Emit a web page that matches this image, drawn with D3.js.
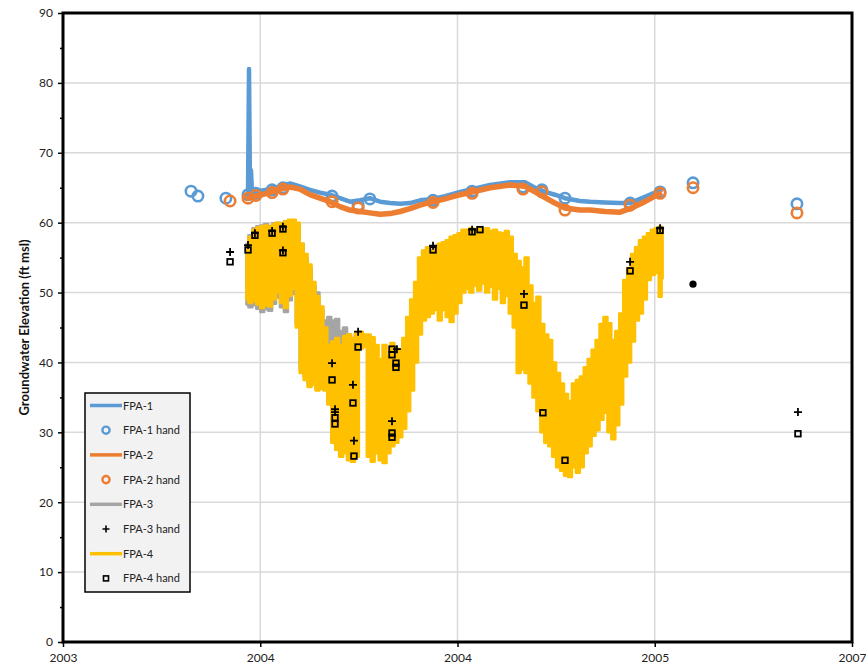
<!DOCTYPE html>
<html><head><meta charset="utf-8">
<script src="https://cdn.jsdelivr.net/npm/d3@7"></script>
<style>body{margin:0;background:#fff} svg{display:block} text{font-family:Lato,'Open Sans',sans-serif}</style>
</head><body><svg id="c" width="866" height="671"></svg>
<script>
// ---------- data ----------
const xTickValues = [0, 1, 2, 3, 4];
const xTickLabels = ["2003", "2004", "2004", "2005", "2007"];
const yTickValues = [0, 10, 20, 30, 40, 50, 60, 70, 80, 90];
const yMinorTicks = [5, 15, 25, 35, 45, 55, 65, 75, 85];
const seriesNames = ["FPA-1", "FPA-1 hand", "FPA-2", "FPA-2 hand", "FPA-3", "FPA-3 hand", "FPA-4", "FPA-4 hand"];

// FPA-1 logger (x in axis-tick units)
const fpa1X = [0.923,0.938,0.943,0.948,0.953,0.958,0.973,1.009,1.049,1.100,1.151,1.201,1.252,1.303,1.354,1.404,1.455,1.506,1.556,1.607,1.658,1.709,1.759,1.810,1.876,1.937,2.013,2.089,2.165,2.266,2.342,2.393,2.444,2.494,2.545,2.621,2.672,2.748,2.824,2.874,2.950,3.001,3.037];
const fpa1Y = [63.8,64.2,82.0,64.3,67.5,64.3,64.4,64.6,64.8,65.2,65.6,65.2,64.7,64.3,64.0,63.5,63.0,63.2,63.5,63.0,62.8,62.7,62.8,63.2,63.4,63.8,64.4,64.9,65.4,65.8,65.8,65.0,64.4,64.0,63.5,63.1,63.0,62.9,62.8,62.8,63.7,64.3,64.8];

// FPA-2 logger
const fpa2X = [0.923,0.973,1.009,1.049,1.100,1.151,1.201,1.252,1.303,1.354,1.404,1.455,1.506,1.556,1.607,1.658,1.709,1.759,1.810,1.876,1.937,2.013,2.089,2.165,2.266,2.342,2.393,2.444,2.494,2.545,2.621,2.672,2.748,2.824,2.874,2.950,3.001,3.037];
const fpa2Y = [63.4,63.8,64.0,64.3,64.8,65.1,64.8,64.0,63.5,63.0,62.3,61.8,61.6,61.4,61.2,61.3,61.6,62.0,62.5,63.0,63.4,64.0,64.5,65.0,65.4,65.2,64.4,63.6,62.8,62.1,61.8,61.8,61.6,61.5,62.0,63.0,63.8,64.3];

// FPA-3 logger (daily max / min envelope)
const fpa3X = [0.93,0.95,0.97,0.99,1.01,1.03,1.05,1.07,1.09,1.11,1.13,1.15,1.17,1.19,1.21,1.23,1.25,1.27,1.29,1.31,1.33,1.35,1.37,1.39,1.41,1.43,1.45,1.47,1.49];
const fpa3Hi = [57.0,58.2,59.2,59.5,59.6,59.8,59.5,59.9,60.0,59.9,60.2,60.2,60.2,59.5,57.0,55.0,53.5,51.0,50.0,47.5,46.0,46.5,46.0,46.2,44.5,45.0,44.0,43.5,44.0];
const fpa3Lo = [48.3,47.9,48.2,47.7,47.2,47.6,47.4,48.4,49.3,47.9,47.2,48.9,49.8,45.5,39.0,38.0,37.0,37.5,36.5,37.0,36.5,34.5,29.0,28.0,27.0,27.5,26.5,26.5,27.0];

// FPA-4 logger (daily max / min envelope)
const fpa4X = [0.93,0.95,0.97,0.99,1.01,1.03,1.05,1.07,1.09,1.11,1.13,1.15,1.17,1.19,1.21,1.23,1.25,1.27,1.29,1.31,1.33,1.35,1.37,1.39,1.41,1.43,1.45,1.47,1.49,1.51,1.53,1.55,1.57,1.59,1.61,1.63,1.65,1.67,1.69,1.71,1.73,1.75,1.77,1.79,1.81,1.83,1.85,1.87,1.89,1.91,1.93,1.95,1.97,1.99,2.01,2.03,2.05,2.07,2.09,2.11,2.13,2.15,2.17,2.19,2.21,2.23,2.25,2.27,2.29,2.31,2.33,2.35,2.37,2.39,2.41,2.43,2.45,2.47,2.49,2.51,2.53,2.55,2.57,2.59,2.61,2.63,2.65,2.67,2.69,2.71,2.73,2.75,2.77,2.79,2.81,2.83,2.85,2.87,2.89,2.91,2.93,2.95,2.97,2.99,3.01,3.03,3.04];
const fpa4Hi = [56.5,58.0,59.0,59.3,59.5,59.6,59.4,59.8,60.0,59.8,60.2,60.4,60.4,60.0,57.0,55.5,54.0,51.5,49.5,48.0,45.0,42.5,43.0,43.5,42.5,43.8,44.0,43.5,44.2,44.4,44.0,44.0,43.6,42.5,40.5,42.5,41.0,42.8,42.0,41.8,43.5,46.5,49.0,51.5,55.0,56.0,56.5,56.0,56.5,57.0,57.2,57.5,58.0,58.2,58.5,59.0,59.0,59.2,59.0,59.2,59.0,59.2,58.8,59.0,58.6,58.5,58.8,58.0,55.5,54.5,53.6,55.0,51.0,48.5,49.4,45.5,44.0,43.2,40.0,38.5,37.0,35.5,34.5,37.0,37.5,38.0,39.3,40.5,41.8,43.2,45.5,46.5,45.6,43.2,44.5,47.0,51.8,53.5,55.5,56.5,57.5,58.0,58.5,59.0,59.2,59.4,59.0];
const fpa4Lo = [49.0,48.5,48.8,48.3,47.8,48.2,48.0,49.0,50.0,48.5,47.8,49.5,50.5,45.0,38.5,37.5,36.5,36.8,36.0,36.2,36.0,34.0,28.5,27.5,26.5,27.0,26.0,25.8,26.5,42.0,42.2,26.5,25.8,27.0,26.0,25.6,27.0,28.0,28.5,29.3,30.5,33.0,36.0,40.0,44.0,46.0,46.5,47.0,47.5,46.0,47.5,46.5,45.8,47.0,48.5,50.0,50.5,50.0,51.0,50.3,51.3,50.0,50.8,49.0,50.5,48.5,49.5,47.0,45.0,38.5,39.0,38.5,37.0,35.0,33.0,30.0,28.5,28.0,26.5,25.0,24.5,23.8,23.6,25.0,24.2,25.0,27.0,28.0,29.5,30.3,31.8,32.8,30.0,29.0,31.0,34.0,38.0,40.0,43.0,46.0,47.0,49.0,51.8,52.5,52.8,49.4,52.0];

// hand measurements
const fpa1HandX = [0.649,0.684,0.826,0.938,0.978,1.060,1.115,1.364,1.496,1.556,1.876,2.074,2.332,2.428,2.545,2.875,3.027,3.194,3.721];
const fpa1HandY = [64.5,63.8,63.5,64.0,64.2,64.7,65.0,63.8,62.5,63.4,63.2,64.5,65.1,64.7,63.5,62.8,64.4,65.7,62.7];
const fpa2HandX = [0.847,0.938,0.978,1.060,1.115,1.364,1.496,1.876,2.074,2.332,2.428,2.545,2.875,3.027,3.194,3.721];
const fpa2HandY = [63.1,63.5,63.9,64.3,64.8,63.0,62.1,62.9,64.2,64.8,64.4,61.8,62.5,64.2,65.0,61.4];
const fpa3HandX = [0.847,0.938,0.973,1.060,1.115,1.115,1.364,1.379,1.379,1.470,1.475,1.496,1.693,1.668,1.876,2.074,2.337,2.875,3.027,3.726];
const fpa3HandY = [55.8,56.8,58.5,58.8,59.4,56.0,39.9,33.3,32.9,36.8,28.8,44.4,41.9,31.6,56.7,59.0,49.8,54.4,59.2,32.9];
const fpa4HandX = [0.847,0.938,0.973,1.060,1.115,1.115,1.364,1.379,1.379,1.470,1.475,1.496,1.668,1.668,1.688,1.688,1.668,1.668,1.876,2.074,2.114,2.337,2.433,2.545,2.875,3.027,3.726];
const fpa4HandY = [54.4,56.1,58.2,58.5,59.1,55.7,37.5,32.1,31.2,34.2,26.6,42.2,41.9,41.1,39.9,39.3,29.9,29.3,56.1,58.7,59.0,48.2,32.8,26.0,53.1,58.9,29.8];
const extraDotX = [3.194];
const extraDotY = [51.2];

// ---------- drawing ----------
const C = {blue:"#5B9BD5", orange:"#ED7D31", gray:"#A5A5A5", yellow:"#FFC000"};
const svg = d3.select("#c");
const L = 63, R = 852, T = 13, B = 642;
const x = d3.scaleLinear().domain([0, 4]).range([L, R]);
const y = d3.scaleLinear().domain([0, 90]).range([B, T]);

// grid
svg.append("g").selectAll("line").data(yTickValues.filter(v => v > 0 && v < 90)).join("line")
  .attr("x1", L).attr("x2", R).attr("y1", d => y(d)).attr("y2", d => y(d))
  .attr("stroke", "#d9d9d9").attr("stroke-width", 1.5);
svg.append("g").selectAll("line").data(xTickValues.filter(v => v > 0 && v < 4)).join("line")
  .attr("y1", T).attr("y2", B).attr("x1", d => x(d)).attr("x2", d => x(d))
  .attr("stroke", "#d9d9d9").attr("stroke-width", 1.5);

const pts = (xs, ys) => xs.map((v, i) => [v, ys[i]]);
const line = d3.line().x(d => x(d[0])).y(d => y(d[1]));
const area = d3.area().curve(d3.curveStep).x(d => x(d[0])).y0(d => y(d[1])).y1(d => y(d[2]));
const env = (xs, hi, lo) => xs.map((v, i) => [v, lo[i], hi[i]]);

// FPA-1
svg.append("path").datum(pts(fpa1X, fpa1Y)).attr("d", line)
  .attr("fill", "none").attr("stroke", C.blue).attr("stroke-width", 4.5).attr("stroke-linejoin", "round");
svg.append("g").selectAll("circle").data(pts(fpa1HandX, fpa1HandY)).join("circle")
  .attr("cx", d => x(d[0])).attr("cy", d => y(d[1])).attr("r", 5.2)
  .attr("fill", "none").attr("stroke", C.blue).attr("stroke-width", 2.6);
// FPA-2
svg.append("path").datum(pts(fpa2X, fpa2Y)).attr("d", line)
  .attr("fill", "none").attr("stroke", C.orange).attr("stroke-width", 5.5).attr("stroke-linejoin", "round");
svg.append("g").selectAll("circle").data(pts(fpa2HandX, fpa2HandY)).join("circle")
  .attr("cx", d => x(d[0])).attr("cy", d => y(d[1])).attr("r", 5.2)
  .attr("fill", "none").attr("stroke", C.orange).attr("stroke-width", 2.6);
// FPA-3
svg.append("path").datum(env(fpa3X, fpa3Hi, fpa3Lo)).attr("d", area)
  .attr("fill", C.gray).attr("stroke", C.gray).attr("stroke-width", 2.5).attr("stroke-linejoin", "round");
// FPA-4
svg.append("path").datum(env(fpa4X, fpa4Hi, fpa4Lo)).attr("d", area)
  .attr("fill", C.yellow).attr("stroke", C.yellow).attr("stroke-width", 2.5).attr("stroke-linejoin", "round");

// plus markers
const plusPath = "M-4,0H4M0,-4V4";
svg.append("g").selectAll("path").data(pts(fpa3HandX, fpa3HandY)).join("path")
  .attr("transform", d => `translate(${x(d[0])},${y(d[1])})`).attr("d", plusPath)
  .attr("stroke", "#000").attr("stroke-width", 1.8).attr("fill", "none");
// square markers
svg.append("g").selectAll("rect").data(pts(fpa4HandX, fpa4HandY)).join("rect")
  .attr("x", d => x(d[0]) - 2.8).attr("y", d => y(d[1]) - 2.8).attr("width", 5.6).attr("height", 5.6)
  .attr("fill", "none").attr("stroke", "#000").attr("stroke-width", 1.8);
svg.append("g").selectAll("circle").data(pts(extraDotX, extraDotY)).join("circle")
  .attr("cx", d => x(d[0])).attr("cy", d => y(d[1])).attr("r", 3.6).attr("fill", "#000");

// axes
const yAx = svg.append("g").attr("transform", `translate(${L},0)`)
  .call(d3.axisLeft(y).tickValues(yTickValues).tickSize(5).tickPadding(5));
const yMin = svg.append("g").attr("transform", `translate(${L},0)`)
  .call(d3.axisLeft(y).tickValues(yMinorTicks).tickSize(3).tickFormat(""));
const xAx = svg.append("g").attr("transform", `translate(0,${B})`)
  .call(d3.axisBottom(x).tickValues(xTickValues).tickSize(5).tickPadding(6).tickFormat((d, i) => xTickLabels[i]));
[yAx, yMin, xAx].forEach(g => {
  g.select(".domain").remove();
  g.selectAll("line").attr("stroke", "#000").attr("stroke-width", 1.5);
  g.selectAll("text").attr("fill", "#222").style("font-size", "12px").style("font-family", "Lato, 'Open Sans', sans-serif");
});
svg.append("rect").attr("x", L).attr("y", T).attr("width", R - L).attr("height", B - T)
  .attr("fill", "none").attr("stroke", "#000").attr("stroke-width", 3);

svg.append("text").attr("transform", `translate(29,${(T + B) / 2}) rotate(-90)`)
  .attr("text-anchor", "middle").style("font-size", "13px").style("font-weight", "bold").attr("fill", "#111")
  .text("Groundwater Elevation (ft msl)");

// legend
const lg = svg.append("g").attr("transform", "translate(85,393)");
lg.append("rect").attr("width", 105).attr("height", 199).attr("fill", "#f2f2f2").attr("stroke", "#000").attr("stroke-width", 1.5);
const kinds = [
  {t:"line", c:C.blue}, {t:"circle", c:C.blue}, {t:"line", c:C.orange}, {t:"circle", c:C.orange},
  {t:"line", c:C.gray}, {t:"plus"}, {t:"line", c:C.yellow}, {t:"square"}];
seriesNames.forEach((name, i) => {
  const cy = 12.5 + i * 24.7;
  const k = kinds[i];
  const g = lg.append("g").attr("transform", `translate(0,${cy})`);
  if (k.t === "line") g.append("line").attr("x1", 5).attr("x2", 37).attr("stroke", k.c).attr("stroke-width", 3.5);
  if (k.t === "circle") g.append("circle").attr("cx", 21).attr("r", 3.6).attr("fill", "none").attr("stroke", k.c).attr("stroke-width", 2.4);
  if (k.t === "plus") g.append("path").attr("d", "M17.5,0H24.5M21,-3.5V3.5").attr("stroke", "#000").attr("stroke-width", 1.6);
  if (k.t === "square") g.append("rect").attr("x", 18.5).attr("y", -2.5).attr("width", 5).attr("height", 5).attr("fill", "none").attr("stroke", "#000").attr("stroke-width", 1.6);
  g.append("text").attr("x", 38).attr("y", 4).style("font-size", "11px").attr("fill", "#222").text(name);
});
</script></body></html>
